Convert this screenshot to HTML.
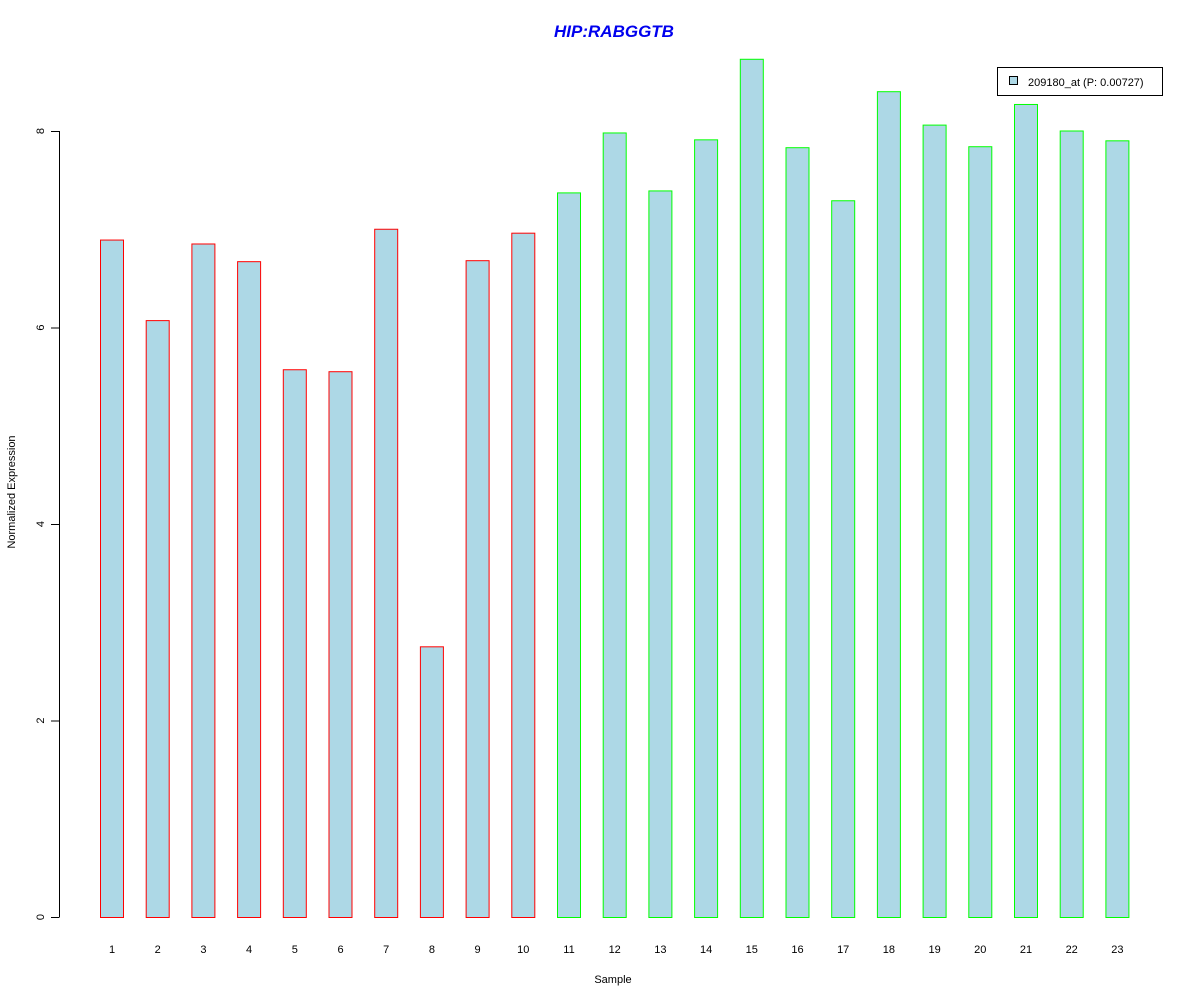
<!DOCTYPE html>
<html><head><meta charset="utf-8"><style>body{margin:0;background:#fff}svg{display:block;font-family:"Liberation Sans",Arial,sans-serif}</style></head>
<body>
<svg id="chart" width="1200" height="1000" xmlns="http://www.w3.org/2000/svg">
<text x="614" y="37" text-anchor="middle" font-size="17" font-weight="bold" font-style="italic" fill="#0000ee">HIP:RABGGTB</text>
<text x="613" y="983" text-anchor="middle" font-size="11">Sample</text>
<text transform="translate(15,492) rotate(-90)" text-anchor="middle" font-size="11">Normalized Expression</text>
<g id="yaxis"></g>
<g id="bars"></g>
<g id="xlabels"></g>
<g>
<rect x="997.5" y="67.5" width="165" height="28" fill="#fff" stroke="#000"/>
<rect x="1009.5" y="76.5" width="8" height="8" fill="#add8e6" stroke="#000"/>
<text x="1028" y="86" font-size="11">209180_at (P: 0.00727)</text>
</g>
</svg>
<script>
const categories = ["1","2","3","4","5","6","7","8","9","10","11","12","13","14","15","16","17","18","19","20","21","22","23"];
const values = [6.89,6.07,6.85,6.67,5.57,5.55,7.00,2.75,6.68,6.96,7.37,7.98,7.39,7.91,8.73,7.83,7.29,8.40,8.06,7.84,8.27,8.00,7.90];
const groups = ["a","a","a","a","a","a","a","a","a","a","b","b","b","b","b","b","b","b","b","b","b","b","b"];
const yTicks = [0,2,4,6,8];
const NS="http://www.w3.org/2000/svg";
const y = v => 917 - v*98.25;
const x = i => 112 + i*45.7;
const ya=document.getElementById('yaxis');
let ln=document.createElementNS(NS,'line');


ln.setAttribute('x1',59.5);ln.setAttribute('x2',59.5);ln.setAttribute('y1',y(yTicks[0]));ln.setAttribute('y2',y(yTicks[yTicks.length-1]));ln.setAttribute('stroke','#000');
ya.appendChild(ln);
yTicks.forEach(t=>{
 const tk=document.createElementNS(NS,'line');
 
 
 tk.setAttribute('x1',51);tk.setAttribute('x2',59.5);tk.setAttribute('y1',y(t)+0.5);tk.setAttribute('y2',y(t)+0.5);tk.setAttribute('stroke','#000');
 ya.appendChild(tk);
 const tx=document.createElementNS(NS,'text');
 
 
 tx.setAttribute('transform',`translate(44,${y(t)}) rotate(-90)`);tx.setAttribute('text-anchor','middle');tx.setAttribute('font-size','11');
 tx.textContent=t;ya.appendChild(tx);
});
const bg=document.getElementById('bars'), xl=document.getElementById('xlabels');
values.forEach((v,i)=>{
 const r=document.createElementNS(NS,'rect');
 
 
 r.setAttribute('x',x(i)-11.5);r.setAttribute('width',23);r.setAttribute('y',y(v));r.setAttribute('height',917.5-y(v));
 r.setAttribute('fill','#add8e6');r.setAttribute('stroke',groups[i]==='a'?'#ff0000':'#00ff00');
 bg.appendChild(r);
 const t=document.createElementNS(NS,'text');
 
 
 t.setAttribute('x',x(i));t.setAttribute('y',953);t.setAttribute('text-anchor','middle');t.setAttribute('font-size','11');
 t.textContent=categories[i];xl.appendChild(t);
});
</script>
</body></html>
